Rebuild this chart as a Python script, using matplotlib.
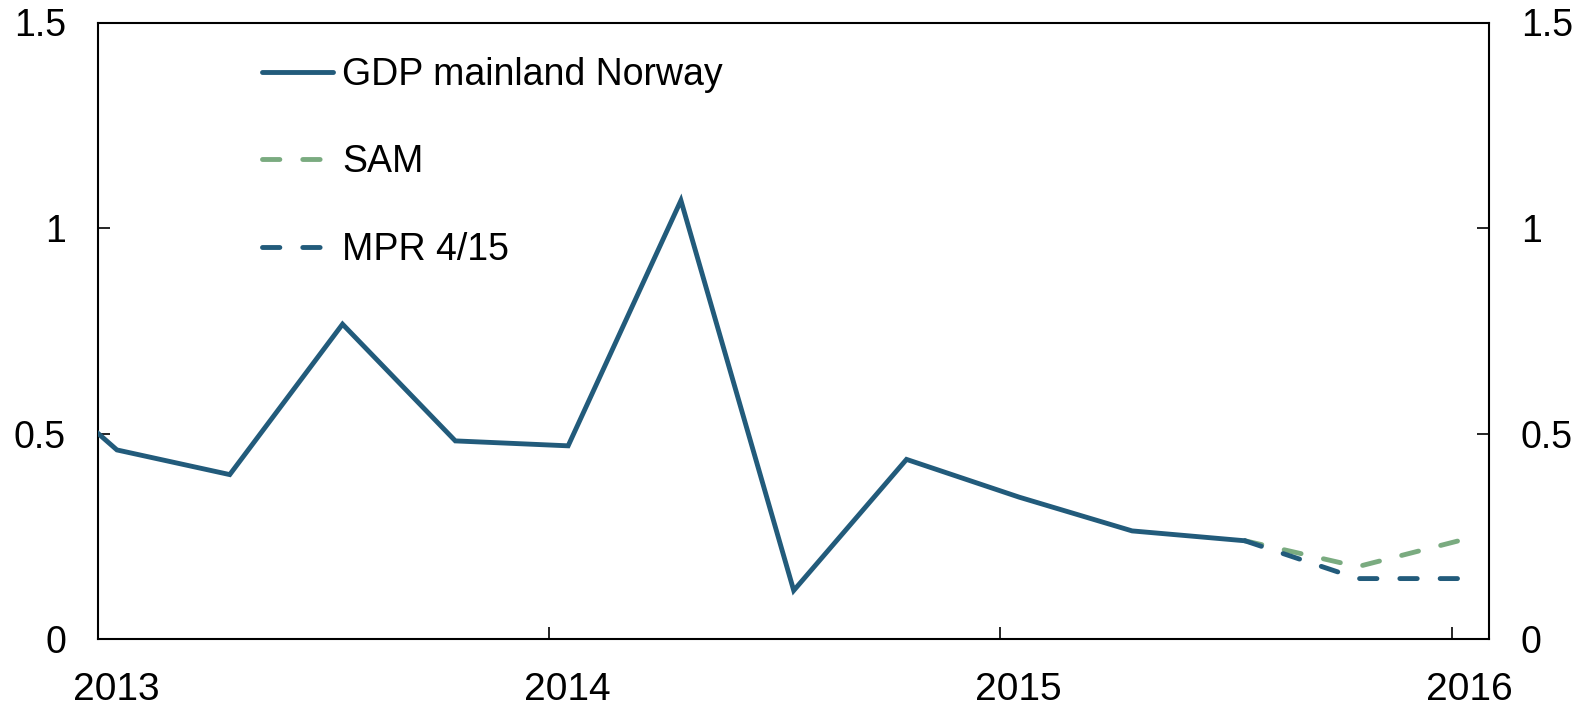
import matplotlib
matplotlib.use("Agg")
import matplotlib.pyplot as plt
import matplotlib.transforms as mtransforms

plt.rcParams['font.family'] = ['Liberation Sans', 'DejaVu Sans']
plt.rcParams['lines.scale_dashes'] = False

# Data (decimal years)
gdp_x = [2012.792, 2013.042, 2013.292, 2013.542, 2013.792, 2014.042, 2014.292,
         2014.542, 2014.792, 2015.042, 2015.292, 2015.542]
gdp_y = [0.70, 0.46, 0.40, 0.766, 0.482, 0.470, 1.067, 0.118, 0.437, 0.345,
         0.263, 0.239]
fc_x = [2015.542, 2015.792, 2016.016]
sam_y = [0.239, 0.176, 0.239]
mpr_y = [0.239, 0.147, 0.147]
year_ticks = [2013, 2014, 2015, 2016]
year_labels = ['2013', '2014', '2015', '2016']
y_ticks = [0, 0.5, 1, 1.5]
y_labels = ['0', '0.5', '1', '1.5']

blue = '#225b7b'
green = '#7aab80'

fig = plt.figure(figsize=(15.87, 7.01), dpi=100)
ax = fig.add_axes([98 / 1587, 62 / 701, (1489 - 98) / 1587, (639 - 22.5) / 701])

lw = 3.5
dash = (12.5, 16.5)
l_sam, = ax.plot(fc_x, sam_y, color=green, lw=lw, dashes=dash,
                 dash_capstyle='round', label='SAM', zorder=2)
l_mpr, = ax.plot(fc_x, mpr_y, color=blue, lw=lw, dashes=dash,
                 dash_capstyle='round', label='MPR 4/15', zorder=3)
l_gdp, = ax.plot(gdp_x, gdp_y, color=blue, lw=lw, solid_capstyle='round',
                 solid_joinstyle='miter', label='GDP mainland Norway', zorder=4)

ax.set_xlim(2013.0, 2016.083)
ax.set_ylim(0, 1.5)
ax.set_xticks(year_ticks)
ax.set_xticklabels(year_labels)
ax.set_yticks(y_ticks)
ax.set_yticklabels(y_labels)

for s in ax.spines.values():
    s.set_linewidth(1.5)
    s.set_color('black')

ax.tick_params(axis='y', direction='in', length=8.5, width=1.2, pad=23,
               labelsize=27, left=True, right=True, labelleft=True, labelright=True)
ax.tick_params(axis='x', direction='in', length=8.5, width=1.2, pad=24,
               labelsize=28, top=False)

offset = mtransforms.ScaledTranslation(18 / 100, 0, fig.dpi_scale_trans)
for lab in ax.get_xticklabels():
    lab.set_transform(lab.get_transform() + offset)

leg = ax.legend(handles=[l_gdp, l_sam, l_mpr], loc='upper left',
                bbox_to_anchor=((262 - 98) / 1391, (639 - 57) / 616.5),
                frameon=False, fontsize=27, handlelength=1.88,
                handletextpad=0.25, labelspacing=1.37, borderpad=0,
                borderaxespad=0)

fig.savefig('out.png', dpi=100)
